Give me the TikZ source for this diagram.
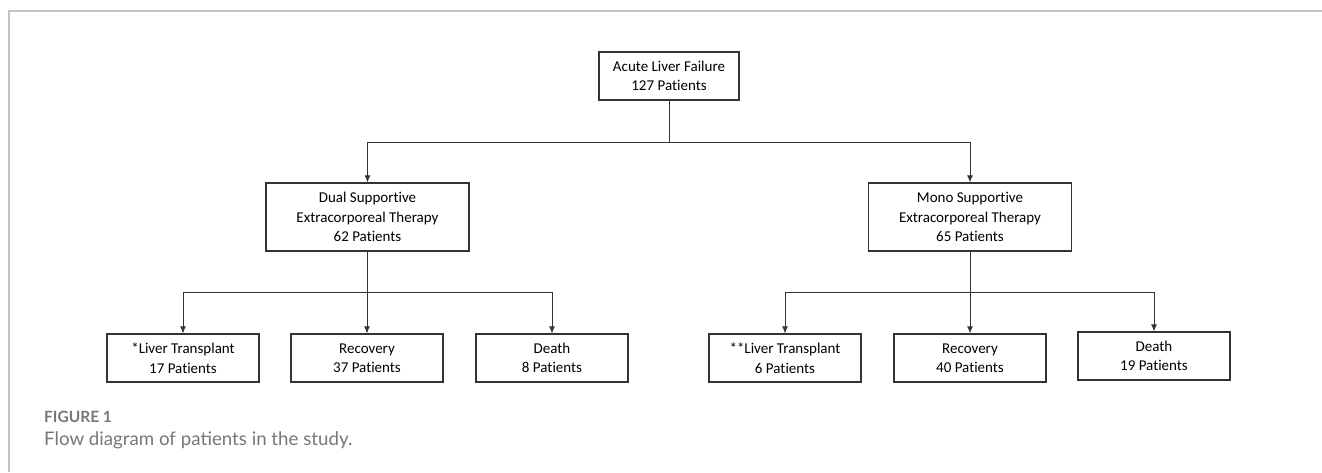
\documentclass[tikz,border=0pt]{standalone}
\usepackage{fontspec}
\setmainfont{Carlito}[Ligatures=NoCommon]
\newfontfamily\capfont{Lato}
\usetikzlibrary{arrows.meta}

\definecolor{framegray}{HTML}{C4C4C4}
\definecolor{capgray}{HTML}{777777}
\definecolor{linegray}{HTML}{333333}

\tikzset{
  box/.style={draw=linegray, line width=1.2pt, align=center, inner sep=0pt,
    font=\fontsize{15}{19.5}\selectfont},
  topbox/.style={box, minimum width=140pt, minimum height=48pt},
  midbox/.style={box, minimum width=203pt, minimum height=68pt},
  endbox/.style={box, minimum width=152pt, minimum height=48pt},
  conn/.style={draw=linegray, line width=0.9pt},
  arr/.style={conn, -{Latex[length=7pt,width=6pt]}}
}

\begin{document}
\begin{tikzpicture}[x=1pt, y=-1pt]
		%%%%% FRAME %%%%%
		\useasboundingbox (0, 0) rectangle (1322, 472);
		\draw[framegray, line width=1.3pt] (9, 472) -- (9, 11) -- (1322, 11);
		
		%%%%% BOXES %%%%%
		\node[topbox] (alf) at (669, 76) {Acute Liver Failure\\127 Patients};
		
		\node[midbox] (dual) at (367.5, 217) {Dual Supportive\\Extracorporeal Therapy\\62 Patients};
		\node[midbox] (mono) at (970, 217) {Mono Supportive\\Extracorporeal Therapy\\65 Patients};
		
		\node[endbox] (dlt) at (183, 358) {*Liver Transplant\\17 Patients};
		\node[endbox] (drec) at (367, 358) {Recovery\\37 Patients};
		\node[endbox] (ddeath) at (552, 358) {Death\\8 Patients};
		
		\node[endbox] (mlt) at (785, 358) {**Liver Transplant\\6 Patients};
		\node[endbox] (mrec) at (970, 358) {Recovery\\40 Patients};
		\node[endbox] (mdeath) at (1154, 356) {Death\\19 Patients};
		
		%%%%% SPLITS %%%%%
		\coordinate (topsplit) at (669, 142);
		\coordinate (dsplit) at (367, 292);
		\coordinate (msplit) at (970, 292);
		
		\draw[conn] (alf) -- (topsplit);
		\draw[arr] (topsplit) -| (dual);
		\draw[arr] (topsplit) -| (mono);
		
		\draw[arr] (dual.south -| drec) -- (drec);
		\draw[arr] (dsplit) -| (dlt);
		\draw[arr] (dsplit) -| (ddeath);
		
		\draw[arr] (mono) -- (mrec);
		\draw[arr] (msplit) -| (mlt);
		\draw[arr] (msplit) -| (mdeath);
		
		%%%%% CAPTION %%%%%
		\node[anchor=west, inner sep=0pt, text=capgray, font=\capfont\bfseries\fontsize{15.5}{18}\selectfont] (fig) at (44, 417) {FIGURE 1};
		\node[anchor=west, inner sep=0pt, text=capgray, font=\capfont\fontsize{18.7}{22}\selectfont] (cap) at (44, 440) {Flow diagram of patients in the study.};
		
		%%%%% END %%%%%
\end{tikzpicture}
\end{document}
